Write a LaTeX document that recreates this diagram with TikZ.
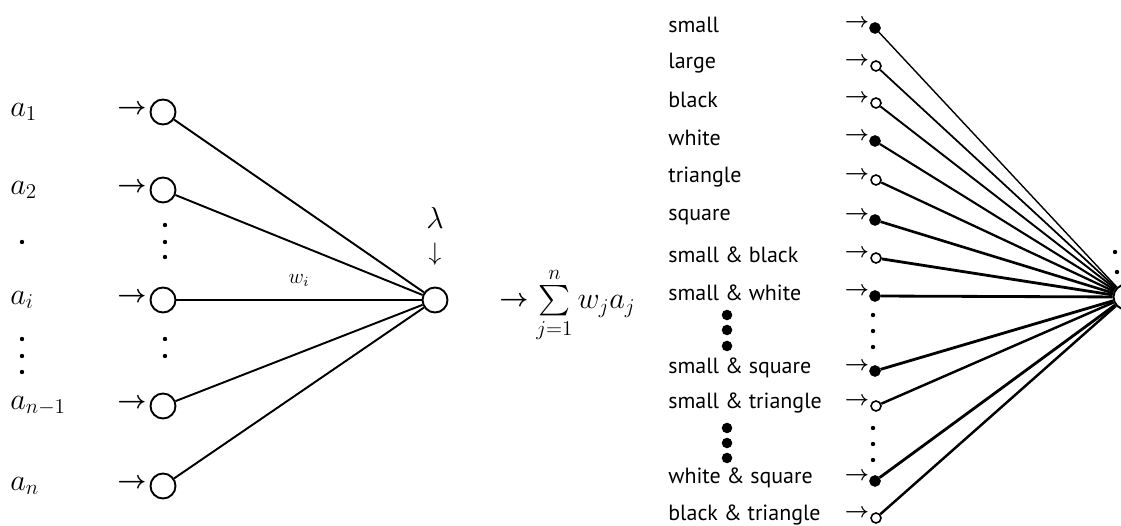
\documentclass[tikz,border=0pt]{standalone}
\usepackage{fontspec}
\usepackage{amsmath}
\usetikzlibrary{arrows.meta, positioning}
\newfontfamily\featfont{PT Sans}

\begin{document}
\begin{tikzpicture}[x=0.02cm, y=-0.02cm,
    every node/.style={inner sep=0pt},
    unit/.style={circle, draw, line width=1.1pt, minimum size=0.5cm},
    onunit/.style={circle, draw, fill=black, line width=0.9pt, minimum size=0.2cm},
    offunit/.style={circle, draw, fill=white, line width=0.9pt, minimum size=0.2cm},
    inlbl/.style={anchor=west, font=\fontsize{18}{20}\selectfont},
    featlbl/.style={anchor=west, font=\featfont\fontsize{12.5}{14}\selectfont},
    inarr/.style={font=\boldmath\fontsize{14}{14}\selectfont},
    featarr/.style={font=\boldmath\fontsize{12}{12}\selectfont},
    conn/.style={line width=1.1pt},
    dotsm/.style={circle, fill=black, minimum size=2.5pt},
    dotbig/.style={circle, fill=black, minimum size=6pt}
]
\useasboundingbox (0,0) rectangle (1121,526);

% left net: inputs a_1 ... a_n into one unit
\node[unit] (u1) at (163,112) {};
\node[unit] (u2) at (163,190) {};
\node[unit] (ui) at (163,300) {};
\node[unit] (un1) at (163,406) {};
\node[unit] (un) at (163,486) {};
\node[unit] (out) at (435,300) {};

\node[inlbl] (a1) at (10,112) {$a_1$};
\node[inlbl] (a2) at (10,190) {$a_2$};
\node[inlbl] (ai) at (10,300) {$a_i$};
\node[inlbl] (an1) at (10,406) {$a_{n-1}$};
\node[inlbl] (an) at (10,486) {$a_n$};

\node[inarr] (r1) at (132,110) {$\rightarrow$};
\node[inarr] (r2) at (132,188) {$\rightarrow$};
\node[inarr] (ri) at (132,298) {$\rightarrow$};
\node[inarr] (rn1) at (132,404) {$\rightarrow$};
\node[inarr] (rn) at (132,484) {$\rightarrow$};

\node[dotsm] (da1) at (22,242) {};
\node[dotsm] (da2) at (22,339) {};
\node[dotsm] (da3) at (22,356) {};
\node[dotsm] (da4) at (22,372) {};
\node[dotsm] (du1) at (165,225) {};
\node[dotsm] (du2) at (165,242) {};
\node[dotsm] (du3) at (165,257) {};
\node[dotsm] (du4) at (165,339) {};
\node[dotsm] (du5) at (165,356) {};

\draw[conn] (u1) -- (out);
\draw[conn] (u2) -- (out);
\draw[conn, line width=1.7pt] (ui) -- node[above=7pt, font=\fontsize{12}{12}\selectfont] (wi) {$w_i$} (out);
\draw[conn] (un1) -- (out);
\draw[conn] (un) -- (out);

\node[font=\fontsize{16}{16}\selectfont] (lam) at (435,218) {$\lambda$};
\node[font=\fontsize{14}{14}\selectfont] (lamarr) at (435,254) {$\downarrow$};
\node[inarr] (sumarr) at (514,302) {$\rightarrow$};
\node[anchor=west, font=\fontsize{17}{19}\selectfont] (sum) at (536,305)
    {$\sum\limits_{j=1}^{n} w_j a_j$};

% right net: features into one unit
\node[onunit] (f1) at (875,28) {};
\node[offunit] (f2) at (876,66) {};
\node[offunit] (f3) at (876,103) {};
\node[onunit] (f4) at (875,141) {};
\node[offunit] (f5) at (876,180) {};
\node[onunit] (f6) at (875,220) {};
\node[offunit] (f7) at (876,258) {};
\node[onunit] (f8) at (875,296) {};
\node[onunit] (f9) at (875,371) {};
\node[offunit] (f10) at (876,406) {};
\node[onunit] (f11) at (875,481) {};
\node[offunit] (f12) at (876,518) {};
\node[unit] (hub) at (1126,297) {};

\node[featlbl] (l1) at (668,25) {small};
\node[featlbl] (l2) at (668,63) {large};
\node[featlbl] (l3) at (668,100) {black};
\node[featlbl] (l4) at (668,138) {white};
\node[featlbl] (l5) at (668,177) {triangle};
\node[featlbl] (l6) at (668,217) {square};
\node[featlbl] (l7) at (668,255) {small \& black};
\node[featlbl] (l8) at (668,293) {small \& white};
\node[featlbl] (l9) at (668,368) {small \& square};
\node[featlbl] (l10) at (668,403) {small \& triangle};
\node[featlbl] (l11) at (668,478) {white \& square};
\node[featlbl] (l12) at (668,515) {black \& triangle};

\node[featarr] (s1) at (857,23) {$\rightarrow$};
\node[featarr] (s2) at (857,61) {$\rightarrow$};
\node[featarr] (s3) at (857,98) {$\rightarrow$};
\node[featarr] (s4) at (857,136) {$\rightarrow$};
\node[featarr] (s5) at (857,175) {$\rightarrow$};
\node[featarr] (s6) at (857,215) {$\rightarrow$};
\node[featarr] (s7) at (857,253) {$\rightarrow$};
\node[featarr] (s8) at (857,291) {$\rightarrow$};
\node[featarr] (s9) at (857,366) {$\rightarrow$};
\node[featarr] (s10) at (857,401) {$\rightarrow$};
\node[featarr] (s11) at (857,476) {$\rightarrow$};
\node[featarr] (s12) at (857,513) {$\rightarrow$};

\node[dotbig] (dl1) at (727,315) {};
\node[dotbig] (dl2) at (727,330) {};
\node[dotbig] (dl3) at (727,346) {};
\node[dotbig] (dl4) at (727,428) {};
\node[dotbig] (dl5) at (727,443) {};
\node[dotbig] (dl6) at (727,458) {};
\node[dotsm] (df1) at (873,315) {};
\node[dotsm] (df2) at (873,331) {};
\node[dotsm] (df3) at (873,347) {};
\node[dotsm] (df4) at (873,428) {};
\node[dotsm] (df5) at (873,444) {};
\node[dotsm] (df6) at (873,460) {};
\node[dotsm] (dh1) at (1115,252) {};
\node[dotsm] (dh2) at (1117,272) {};

\draw[conn, line width=0.8pt] (f1) -- (hub);
\draw[conn, line width=1.0pt] (f2) -- (hub);
\draw[conn, line width=1.1pt] (f3) -- (hub);
\draw[conn, line width=1.2pt] (f4) -- (hub);
\draw[conn, line width=1.3pt] (f5) -- (hub);
\draw[conn, line width=1.5pt] (f6) -- (hub);
\draw[conn, line width=1.6pt] (f7) -- (hub);
\draw[conn, line width=1.6pt] (f8) -- (hub);
\draw[conn, line width=1.6pt] (f9) -- (hub);
\draw[conn, line width=1.4pt] (f10) -- (hub);
\draw[conn, line width=1.6pt] (f11) -- (hub);
\draw[conn, line width=1.4pt] (f12) -- (hub);
\end{tikzpicture}
\end{document}
